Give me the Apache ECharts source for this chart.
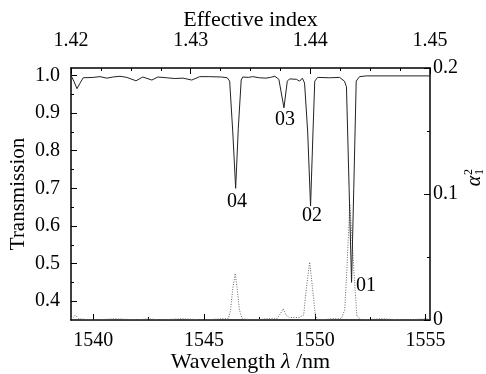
<!DOCTYPE html>
<html>
<head>
<meta charset="utf-8">
<script src="https://cdn.jsdelivr.net/npm/echarts@6/dist/echarts.min.js"></script>
<style>
  html, body { margin: 0; padding: 0; background: #fff; }
  #chart { width: 486px; height: 374px; }
</style>
</head>
<body>
<div id="chart"></div>
<script>
// solid curve: wavelength (nm) -> transmission
const wlT = [1539.00, 1539.13, 1539.27, 1539.40, 1539.55, 1540.00, 1540.31, 1540.62, 1540.89, 1541.21,
  1541.52, 1541.93, 1542.24, 1542.65, 1542.92, 1543.32, 1543.68, 1544.05, 1544.45, 1544.81,
  1545.26, 1545.80, 1546.05, 1546.16, 1546.30, 1546.43, 1546.55, 1546.68, 1546.75, 1547.00,
  1547.20, 1547.50, 1547.80, 1548.00, 1548.20, 1548.38, 1548.61, 1548.76, 1548.86, 1549.17,
  1549.32, 1549.44, 1549.54, 1549.68, 1549.81, 1549.92, 1550.00, 1550.13, 1550.67, 1551.12,
  1551.19, 1551.34, 1551.43, 1551.55, 1551.66, 1551.76, 1551.87, 1552.02, 1552.32, 1555.20];
const transmission = [1.000, 0.985, 0.965, 0.979, 0.994, 0.995, 0.997, 0.993, 0.996, 0.998,
  0.995, 0.986, 0.996, 0.988, 0.996, 0.994, 0.992, 0.993, 0.988, 0.997,
  0.997, 0.996, 0.994, 0.985, 0.850, 0.700, 0.860, 0.988, 0.996, 0.995,
  0.997, 0.994, 0.993, 0.995, 0.998, 0.990, 0.914, 0.985, 0.991, 0.990,
  0.985, 0.993, 0.980, 0.850, 0.653, 0.850, 0.985, 0.995, 0.994, 0.995,
  0.999, 0.985, 0.970, 0.700, 0.450, 0.700, 0.985, 0.997, 0.999, 0.999];

// dotted curve: wavelength (nm) -> alpha_1^2
const wlA = [1539.00, 1539.10, 1539.20, 1539.35, 1540.0, 1541.0, 1542.0, 1542.5, 1543.0, 1544.0,
  1545.0, 1545.8, 1546.10, 1546.20, 1546.30, 1546.41, 1546.50, 1546.60, 1546.72, 1547.2,
  1547.8, 1548.30, 1548.45, 1548.57, 1548.70, 1548.85, 1549.30, 1549.50, 1549.62, 1549.77,
  1549.90, 1550.03, 1550.2, 1550.8, 1551.20, 1551.35, 1551.45, 1551.58, 1551.70, 1551.78,
  1551.90, 1552.1, 1553.0, 1554.0, 1555.2];
const alphaSq = [0.001, 0.002, 0.004, 0.001, 0.000, 0.001, 0.000, 0.001, 0.000, 0.001,
  0.000, 0.001, 0.001, 0.008, 0.025, 0.037, 0.025, 0.008, 0.001, 0.000,
  0.001, 0.001, 0.005, 0.009, 0.004, 0.002, 0.002, 0.004, 0.025, 0.046,
  0.025, 0.003, 0.000, 0.001, 0.001, 0.008, 0.040, 0.092, 0.060, 0.035,
  0.003, 0.000, 0.001, 0.000, 0.001];

// mode labels
const modeNames = ['04', '03', '02', '01'];
const modeWl = [1546.48, 1548.64, 1549.86, 1552.33];
const modeT = [0.663, 0.883, 0.626, 0.44];

// ticks
const wlTicks = [1540, 1545, 1550, 1555];
const wlMinor = [1542.5, 1547.5, 1552.5];
const neffTicks = [1.42, 1.43, 1.44, 1.45];
const neffMinor = [1.4225, 1.425, 1.4275, 1.4325, 1.435, 1.4375, 1.4425, 1.445, 1.4475];
const tTicks = [0.4, 0.5, 0.6, 0.7, 0.8, 0.9, 1.0];
const tMinor = [0.45, 0.55, 0.65, 0.75, 0.85, 0.95];
const aTicks = [0, 0.1, 0.2];
const aMinor = [0.05, 0.15];

const FONT = '"Liberation Serif", "DejaVu Serif", serif';
const line = { show: true, onZero: false, lineStyle: { color: '#000', width: 1.5 } };
const tickStyle = { color: '#000', width: 1 };

function minorAxis(pos, min, max, vals) {
  return {
    type: 'value', position: pos, min: min, max: max,
    axisLine: { show: false, onZero: false },
    axisTick: { show: true, inside: true, length: 3, lineStyle: tickStyle, customValues: vals },
    axisLabel: { show: false },
    splitLine: { show: false }
  };
}

const chart = echarts.init(document.getElementById('chart'));

chart.setOption({
  animation: false,
  backgroundColor: '#fff',
  textStyle: { fontFamily: FONT, color: '#000' },
  grid: { left: 71, right: 56, top: 68, bottom: 54, containLabel: false, outerBoundsMode: 'none' },
  xAxis: [
    {
      type: 'value', position: 'bottom', min: 1539, max: 1555.2,
      name: '{n|Wavelength }{i|λ}{n| /nm}', nameLocation: 'middle', nameGap: 31, nameMoveOverlap: false,
      nameTextStyle: {
        rich: {
          n: { fontFamily: FONT, fontSize: 22, color: '#000' },
          i: { fontFamily: FONT, fontSize: 22, fontStyle: 'italic', color: '#000' }
        }
      },
      axisLine: line,
      axisTick: { show: true, inside: true, length: 6, lineStyle: tickStyle, customValues: wlTicks },
      axisLabel: { customValues: wlTicks, margin: 11, fontSize: 20, color: '#000', fontFamily: FONT,
        formatter: v => String(Math.round(v)) },
      splitLine: { show: false }
    },
    {
      type: 'value', position: 'top', min: 1.42, max: 1.45,
      name: 'Effective index', nameLocation: 'middle', nameGap: 37, nameMoveOverlap: false,
      nameTextStyle: { fontSize: 22, color: '#000', fontFamily: FONT },
      axisLine: line,
      axisTick: { show: true, inside: true, length: 6, lineStyle: tickStyle, customValues: neffTicks },
      axisLabel: { customValues: neffTicks, margin: 17, fontSize: 20, color: '#000', fontFamily: FONT,
        formatter: v => v.toFixed(2) },
      splitLine: { show: false }
    },
    minorAxis('bottom', 1539, 1555.2, wlMinor),
    minorAxis('top', 1.42, 1.45, neffMinor)
  ],
  yAxis: [
    {
      type: 'value', position: 'left', min: 0.35, max: 1.02,
      name: 'Transmission', nameLocation: 'middle', nameGap: 42, nameMoveOverlap: false,
      nameTextStyle: { fontSize: 21, color: '#000', fontFamily: FONT },
      axisLine: line,
      axisTick: { show: true, inside: true, length: 6, lineStyle: tickStyle, customValues: tTicks },
      axisLabel: { customValues: tTicks, margin: 11, fontSize: 20, color: '#000', fontFamily: FONT,
        formatter: v => v.toFixed(1) },
      splitLine: { show: false }
    },
    {
      type: 'value', position: 'right', min: 0, max: 0.2,
      axisLine: line,
      axisTick: { show: true, inside: true, length: 6, lineStyle: tickStyle, customValues: aTicks },
      axisLabel: { customValues: aTicks, margin: 3, fontSize: 20, color: '#000', fontFamily: FONT,
        formatter: v => (v === 0 ? '0' : v.toFixed(1)) },
      splitLine: { show: false }
    },
    minorAxis('left', 0.35, 1.02, tMinor),
    minorAxis('right', 0, 0.2, aMinor)
  ],
  graphic: [{
    type: 'group', x: 475, y: 181, rotation: Math.PI / 2,
    children: [
      { type: 'text', x: 0, y: 0, style: { text: 'α', font: 'italic 20px ' + FONT, fill: '#000', align: 'center', verticalAlign: 'middle' } },
      { type: 'text', x: 6, y: -6, style: { text: '2', font: '12px ' + FONT, fill: '#000', align: 'left', verticalAlign: 'middle' } },
      { type: 'text', x: 6, y: 5, style: { text: '1', font: '12px ' + FONT, fill: '#000', align: 'left', verticalAlign: 'middle' } }
    ]
  }],
  series: [
    {
      name: 'alpha', type: 'line', xAxisIndex: 0, yAxisIndex: 1,
      data: wlA.map((w, i) => [w, alphaSq[i]]),
      symbol: 'none', silent: true,
      lineStyle: { color: '#666', width: 1, type: [1, 1.5] }
    },
    {
      name: 'transmission', type: 'line', xAxisIndex: 0, yAxisIndex: 0,
      data: wlT.map((w, i) => [w, transmission[i]]),
      symbol: 'none', silent: true,
      lineStyle: { color: '#222', width: 1 }
    },
    {
      name: 'modes', type: 'scatter', xAxisIndex: 0, yAxisIndex: 0,
      data: modeNames.map((n, i) => ({ name: n, value: [modeWl[i], modeT[i]] })),
      symbolSize: 1, itemStyle: { color: 'rgba(0,0,0,0)', opacity: 1 }, silent: true,
      label: { show: true, position: 'inside', formatter: p => p.name, fontSize: 20,
        color: '#000', opacity: 1, fontFamily: FONT, textBorderWidth: 0 },
      // snap the mode labels to whole pixels so the text stays crisp
      labelLayout: p => ({
        x: Math.round(p.labelRect.x),
        y: Math.round(p.labelRect.y)
      })
    }
  ]
});
</script>
</body>
</html>
